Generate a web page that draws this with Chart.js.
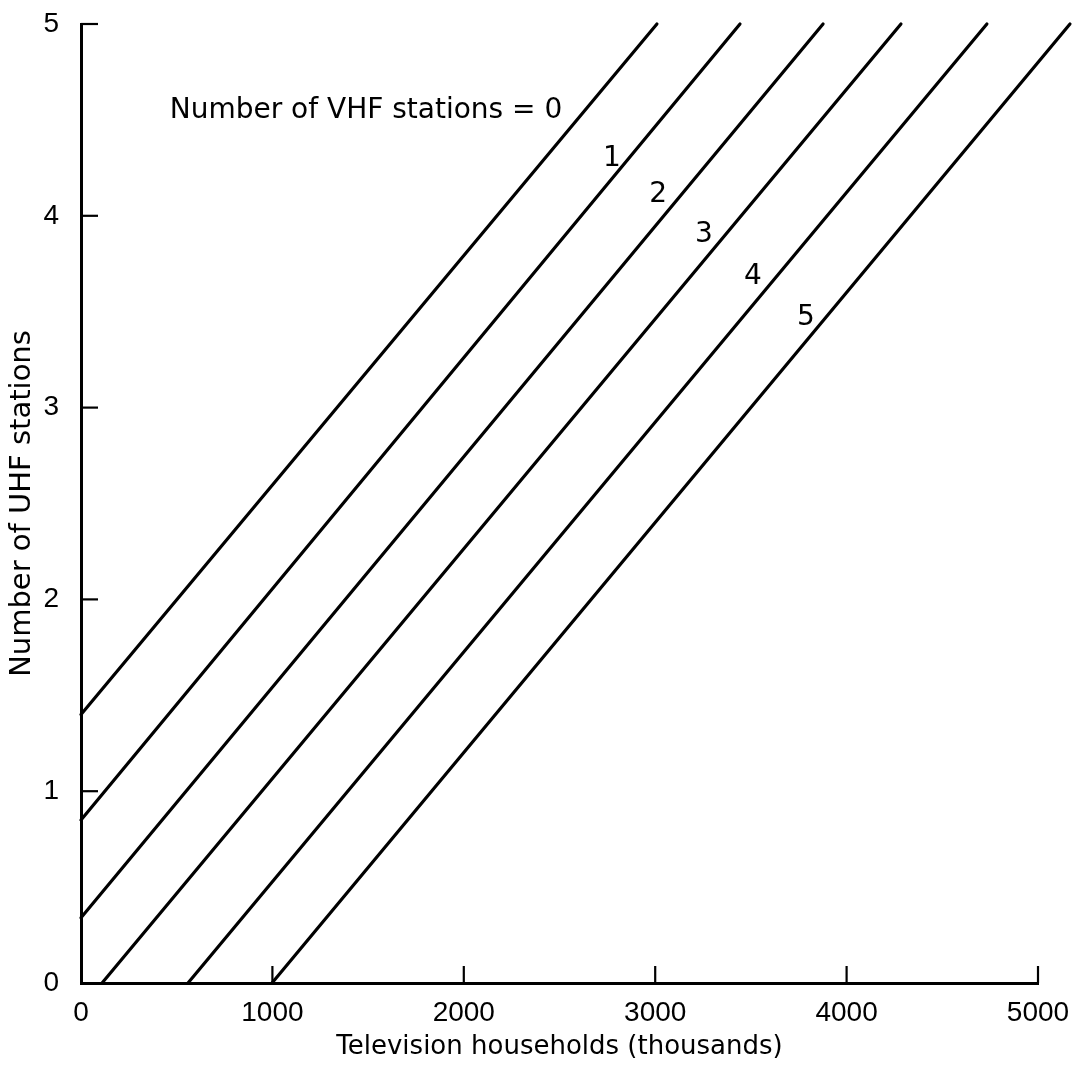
<!DOCTYPE html>
<html>
<head>
<meta charset="utf-8">
<script src="https://cdn.jsdelivr.net/npm/chart.js@4/dist/chart.umd.min.js"></script>
<style>
  body { margin: 0; background: #fff; }
  #wrap { width: 1078px; height: 1078px; }
</style>
</head>
<body>
<div id="wrap"><canvas id="chart"></canvas></div>
<script>
// one straight line per number of VHF stations, start and end points
const xStart = [0, 0, 0, 110, 559, 998];
const yStart = [1.40, 0.85, 0.34, 0, 0, 0];
const xEnd = [3009, 3443, 3877, 4284, 4733, 5167];
const yEnd = [5, 5, 5, 5, 5, 5];

// line labels and where they sit (data units)
const vhfLabels = ["Number of VHF stations = 0", "1", "2", "3", "4", "5"];
const labelX = [1489, 2774, 3015, 3255, 3511, 3788];
const labelY = [4.55, 4.30, 4.11, 3.90, 3.68, 3.47];

const xTicks = [0, 1000, 2000, 3000, 4000, 5000];
const yTicks = [0, 1, 2, 3, 4, 5];

const textFont = "'DejaVu Sans', sans-serif";
const tickFont = "'Liberation Sans', Arial, sans-serif";

let datasets = xStart.map((x0, i) => ({
    label: vhfLabels[i],
    data: [{ x: x0, y: yStart[i] }, { x: xEnd[i], y: yEnd[i] }],
    showLine: true,
    borderColor: "#000",
    borderWidth: 3.2,
    borderCapStyle: "round",
    pointRadius: 0,
    clip: false,
}));

// inward tick marks + the labels along the lines
const extras = {
    id: "extras",
    afterDatasetsDraw(chart) {
        const ctx = chart.ctx;
        const xs = chart.scales.x;
        const ys = chart.scales.y;
        const area = chart.chartArea;
        ctx.save();
        ctx.strokeStyle = "#000";
        ctx.lineWidth = 2.2;
        xTicks.forEach((v) => {
            if (v === 0) return;
            const px = xs.getPixelForValue(v);
            ctx.beginPath();
            ctx.moveTo(px, area.bottom);
            ctx.lineTo(px, area.bottom - 17);
            ctx.stroke();
        });
        yTicks.forEach((v) => {
            if (v === 0) return;
            const py = ys.getPixelForValue(v);
            ctx.beginPath();
            ctx.moveTo(area.left, py);
            ctx.lineTo(area.left + 17, py);
            ctx.stroke();
        });

        ctx.fillStyle = "#000";
        ctx.textAlign = "center";
        ctx.textBaseline = "middle";
        ctx.font = "28px " + textFont;
        vhfLabels.forEach((t, i) => {
            ctx.fillText(t, xs.getPixelForValue(labelX[i]), ys.getPixelForValue(labelY[i]));
        });
        ctx.restore();
    },
};

const ctx = document.getElementById("chart").getContext("2d");
let chart = new Chart(ctx, {
    type: "scatter",
    data: { datasets: datasets },
    options: {
        responsive: true,
        maintainAspectRatio: false,
        animation: false,
        layout: { padding: { top: 24, right: 40, left: 0, bottom: 0 } },
        plugins: {
            legend: { display: false },
            tooltip: { enabled: false },
        },
        scales: {
            x: {
                type: "linear",
                min: 0,
                max: 5000,
                afterFit: (s) => {
                    s.height = 95;
                    s.paddingLeft = 0;
                    s.paddingRight = 0;
                },
                grid: { display: false, drawTicks: false },
                border: { display: true, color: "#000", width: 3 },
                ticks: {
                    stepSize: 1000,
                    autoSkip: false,
                    maxRotation: 0,
                    padding: 13,
                    color: "#000",
                    font: { family: tickFont, size: 28 },
                    callback: (v) => String(v),
                },
                title: {
                    display: true,
                    text: "Television households (thousands)",
                    color: "#000",
                    font: { family: textFont, size: 26 },
                    padding: { top: 0, bottom: 15 },
                },
            },
            y: {
                type: "linear",
                min: 0,
                max: 5,
                afterFit: (s) => {
                    s.width = 81;
                    s.paddingTop = 0;
                    s.paddingBottom = 0;
                },
                grid: { display: false, drawTicks: false },
                border: { display: true, color: "#000", width: 3 },
                ticks: {
                    stepSize: 1,
                    padding: 22,
                    color: "#000",
                    font: { family: tickFont, size: 28 },
                    callback: (v) => String(v),
                },
                title: {
                    display: true,
                    text: "Number of UHF stations",
                    color: "#000",
                    font: { family: textFont, size: 29 },
                    padding: { top: 5, bottom: 0 },
                },
            },
        },
    },
    plugins: [extras],
});
</script>
</body>
</html>
